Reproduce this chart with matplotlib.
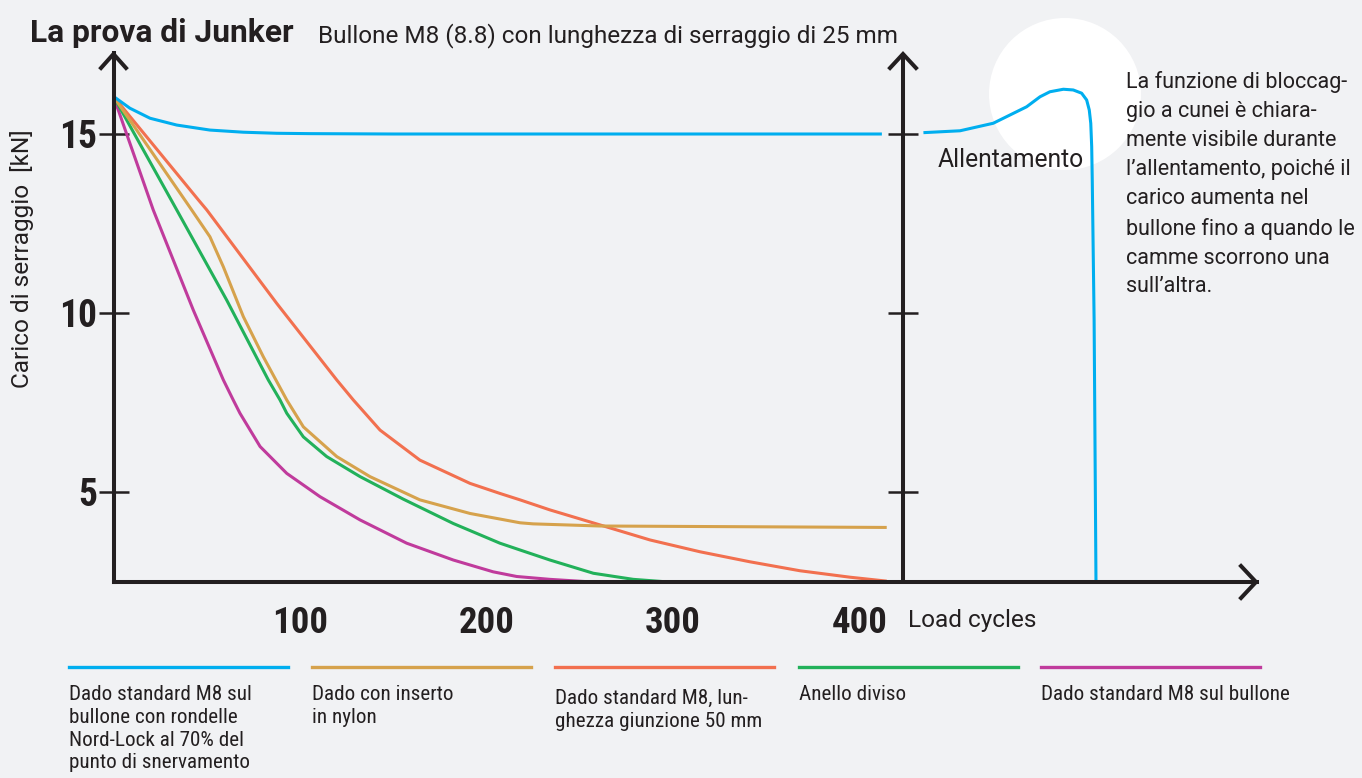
"""Junker test chart: clamp load vs load cycles."""

import matplotlib

matplotlib.use("Agg")
import matplotlib.pyplot as plt
from matplotlib import font_manager
from matplotlib.lines import Line2D
from matplotlib.patches import Ellipse
import numpy as np

# ---- data ----
nordlock_x = [0, 8.8, 19.6, 33.9, 51.7, 69.6, 87.5, 105.4, 150, 412]
nordlock_y = [16.05, 15.72, 15.44, 15.25, 15.11, 15.05, 15.02, 15.01, 15.0, 15.0]

nylon_x = [0, 41.9, 51.7, 58.9, 69.6, 80.3, 92.9, 101.8, 119.7, 137.5, 164.3, 191.2, 218, 225,
           260.9, 414.6]
nylon_y = [16.05, 12.88, 12.13, 11.29, 9.9, 8.78, 7.57, 6.82, 5.99, 5.43, 4.78, 4.4, 4.14, 4.11,
           4.05, 4.01]

joint50_x = [0, 45.5, 50, 87.5, 119.7, 128.6, 142.9, 164.3, 191.2, 207.2, 218, 234, 260.9, 287.7,
             314.5, 341.3, 368.1, 394.9, 414.6]
joint50_y = [16.05, 13.16, 12.88, 10.27, 8.13, 7.57, 6.73, 5.89, 5.24, 4.96, 4.78, 4.5, 4.08, 3.66,
             3.33, 3.05, 2.8, 2.62, 2.51]

split_x = [0, 33.9, 60.7, 83, 89.3, 92.9, 101.8, 114.3, 132.2, 155.4, 182.2, 207.2, 218, 234,
           257.3, 278.7, 296.6]
split_y = [16.05, 12.88, 10.36, 8.13, 7.57, 7.2, 6.54, 5.99, 5.43, 4.8, 4.12, 3.57, 3.38, 3.1,
           2.73, 2.56, 2.49]

plain_x = [0, 21.3, 42.8, 58.9, 64.2, 67.8, 78.6, 92.9, 110.7, 132.2, 157.2, 182.2, 203.6, 216.2,
           234, 255.5]
plain_y = [16.05, 12.88, 10.08, 8.13, 7.57, 7.2, 6.27, 5.52, 4.87, 4.22, 3.57, 3.1, 2.77, 2.64,
           2.56, 2.49]

loosen_x = [435.1, 453.9, 471.7, 489.6, 496.8, 502.1, 509.3, 514.6, 519.1, 521.8, 523.2, 524.0,
            524.5, 524.8, 525.8, 526.8]
loosen_y = [15.04, 15.09, 15.3, 15.76, 16.04, 16.18, 16.25, 16.23, 16.14, 15.95, 15.67, 15.3,
            14.65, 13.72, 9.8, 2.49]

x_ticks = [100, 200, 300, 400]
y_ticks = [5, 10, 15]
right_axis_x = 423.3

series_labels = [
    "Dado standard M8 sul\nbullone con rondelle\nNord-Lock al 70% del\npunto di snervamento",
    "Dado con inserto\nin nylon",
    "Dado standard M8, lun-\nghezza giunzione 50 mm",
    "Anello diviso",
    "Dado standard M8 sul bullone",
]
series_colors = ["#00AEEF", "#D6A24C", "#F2704F", "#22B15A", "#C03B9C"]

note = ("La funzione di bloccag-\ngio a cunei è chiara-\nmente visibile durante\n"
        "l\u2019allentamento, poiché il\ncarico aumenta nel\nbullone fino a quando le\n"
        "camme scorrono una\nsull\u2019altra.")

# ---- style ----
W, H = 1362, 778
BG = "#F1F2F4"
INK = "#231F20"
installed = {f.name for f in font_manager.fontManager.ttflist}
COND = next((f for f in ["Roboto Condensed", "Liberation Sans Narrow", "Open Sans Condensed"]
             if f in installed), "Roboto")
plt.rcParams["font.family"] = ["Roboto", "DejaVu Sans"]


def fx(px):
    return px / W


def fy(py):
    return 1 - py / H


fig = plt.figure(figsize=(W / 100, H / 100), dpi=100, facecolor=BG)

# axes: x=0 at px 113.5, 1.865 px per cycle; y=15 at px 134, 35.8 px per kN
left_px, right_px, top_px, bottom_px = 113.5, 1257, 53, 582
ax = fig.add_axes([fx(left_px), fy(bottom_px), (right_px - left_px) / W, (bottom_px - top_px) / H])
ax.set_facecolor("none")
ax.set_xlim(0, (right_px - left_px) / 1.865)
ax.set_ylim(15 - (bottom_px - 134) / 35.8, 15 + (134 - top_px) / 35.8)

fig.add_artist(Ellipse((fx(1065), fy(94)), 152 / W, 152 / H, transform=fig.transFigure,
                       facecolor="white", edgecolor="none", zorder=-1))

curves = [(nordlock_x, nordlock_y), (nylon_x, nylon_y), (joint50_x, joint50_y),
          (split_x, split_y), (plain_x, plain_y)]
for (xs, ys), color in reversed(list(zip(curves, series_colors))):
    ax.plot(xs, ys, color=color, lw=2.2, solid_capstyle="butt", solid_joinstyle="round",
            clip_on=False)
ax.plot(loosen_x, loosen_y, color=series_colors[0], lw=2.2, solid_joinstyle="round", clip_on=False)

for side in ["top", "right"]:
    ax.spines[side].set_visible(False)
for side in ["left", "bottom"]:
    ax.spines[side].set_linewidth(2.9)
    ax.spines[side].set_color(INK)

ax.axvline(right_axis_x, color=INK, lw=2.9)
ax.plot(np.full(len(y_ticks), right_axis_x), y_ticks, ls="none", marker="_", ms=21, mew=1.8, color=INK)

ax.set_yticks(y_ticks)
ax.set_yticklabels([str(v) for v in y_ticks], fontfamily=COND, fontweight="bold", fontsize=27)
ax.tick_params(axis="y", direction="inout", length=21, width=1.8, color=INK, pad=1, labelcolor=INK)
ax.set_xticks(x_ticks)
ax.set_xticklabels([str(v) for v in x_ticks], fontfamily=COND, fontweight="bold", fontsize=26.5)
ax.tick_params(axis="x", length=0, pad=16.5, labelcolor=INK)

# arrow heads
for pts in ([(101, 68), (113.5, 54), (126, 68)],
            [(890, 68), (903, 54), (916, 68)],
            [(1241, 566), (1256, 582), (1241, 598)]):
    fig.add_artist(Line2D([fx(p[0]) for p in pts], [fy(p[1]) for p in pts], lw=2.9, color=INK,
                          solid_joinstyle="miter", transform=fig.transFigure))

# texts
fig.text(fx(30), fy(33), "La prova di Junker", fontsize=22.9, fontweight="bold", color=INK, va="center")
fig.text(fx(318), fy(36), "Bullone M8 (8.8) con lunghezza di serraggio di 25 mm", fontsize=17.5,
         color=INK, va="center")
fig.text(fx(22), fy(259), "Carico di serraggio  [kN]", fontsize=17.6, color=INK, rotation=90,
         ha="center", va="center")
fig.text(fx(908), fy(620), "Load cycles", fontsize=17.6, color=INK, va="center")
fig.text(fx(938), fy(160), "Allentamento", fontsize=17.7, color=INK, va="center")
fig.text(fx(1126), fy(71), note, fontsize=15.5, color=INK, va="top", linespacing=1.5)

# legend
seg_starts = [69, 312, 555, 799, 1041]
for start, label, color in zip(seg_starts, series_labels, series_colors):
    fig.add_artist(Line2D([fx(start), fx(start + 219)], [fy(667), fy(667)], lw=2.4, color=color,
                          transform=fig.transFigure))
    top = 689 if label.startswith("Dado standard M8, lun") else 685
    fig.text(fx(start), fy(top), label, fontsize=15.2, fontfamily=COND, color=INK, va="top",
             linespacing=1.25)

fig.savefig("out.png", dpi=100, facecolor=BG)
plt.close(fig)
